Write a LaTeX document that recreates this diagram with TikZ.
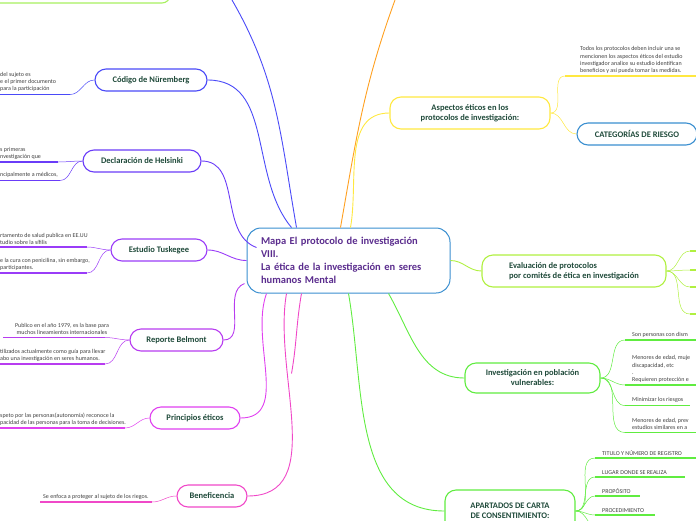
\documentclass[tikz,border=0pt]{standalone}
\usepackage{fontspec}
\setmainfont{Carlito}
\usetikzlibrary{calc}
\definecolor{cblue}{HTML}{3A8FD0}
\definecolor{cpurp}{HTML}{5B2D8E}
\definecolor{ctext}{HTML}{1F4A3A}
\definecolor{bnur}{HTML}{4A4AF8}
\definecolor{bhel}{HTML}{6A3CF8}
\definecolor{btus}{HTML}{9A3CF8}
\definecolor{bbel}{HTML}{B83CF0}
\definecolor{bpri}{HTML}{E040F0}
\definecolor{bben}{HTML}{F048C8}
\definecolor{byel}{HTML}{FFE840}
\definecolor{borg}{HTML}{FFA020}
\definecolor{blim}{HTML}{B0F040}
\definecolor{bgrn}{HTML}{60EC40}
\definecolor{btop}{HTML}{A8F060}
\tikzset{
 branch/.style={draw=#1,line width=1.1pt,rounded corners=11pt,fill=white,font=\fontsize{8.5}{10}\selectfont\bfseries,text=ctext,inner xsep=8pt,align=center},
 leaf/.style={font=\fontsize{6}{7.4}\selectfont,text=black!75,inner sep=0pt,align=#1},
 ul/.style={draw=#1,line width=1.3pt},
 conn/.style={draw=#1,line width=0.9pt},
 thin/.style={draw=#1,line width=0.5pt},
}
\begin{document}
\begin{tikzpicture}[x=1pt,y=-1pt]
\useasboundingbox (0,0) rectangle (696,520);
% top-left green box remnant
\draw[btop,line width=1.1pt,rounded corners=8pt] (-20,-20) rectangle (170,3);
\coordinate (topA) at (232,0);
\coordinate (topB) at (395,0);

% center
\node[draw=cblue,line width=1pt,rounded corners=14pt,fill=white,minimum width=203pt,minimum height=65pt,text width=175pt,inner xsep=14pt,align=left,font=\fontsize{10.5}{13}\selectfont\bfseries,text=cpurp] (c) at (348.5,260.5) {Mapa El protocolo de investigación\\VIII.\\La ética de la investigación en seres\\humanos Mental};

% left branches
\node[branch=bnur,minimum width=112pt,minimum height=22pt] (nur) at (151,80) {Código de Nüremberg};
\node[branch=bhel,minimum width=118pt,minimum height=22pt] (hel) at (142,161) {Declaración de Helsinki};
\node[branch=btus,minimum width=96pt,minimum height=22pt] (tus) at (159,250) {Estudio Tuskegee};
\node[branch=bbel,minimum width=93pt,minimum height=22pt] (bel) at (176.5,340) {Reporte Belmont};
\node[branch=bpri,minimum width=90pt,minimum height=22pt] (pri) at (195,418) {Principios éticos};
\node[branch=bben,minimum width=70pt,minimum height=22pt] (ben) at (212,496) {Beneficencia};

% right branches
\node[branch=byel,minimum width=160pt,minimum height=32pt] (asp) at (470,113) {Aspectos éticos en los\\ protocolos de investigación:};
\node[branch=cblue,minimum width=120pt,minimum height=22pt] (cat) at (637,134) {CATEGORÍAS DE RIESGO};
\node[branch=blim,minimum width=184pt,minimum height=32pt,align=left] (eva) at (574,271) {Evaluación de protocolos\\por comités de ética en investigación};
\node[branch=bgrn,minimum width=135pt,minimum height=30pt] (vul) at (532.5,378) {Investigación en población\\ vulnerables:};
\node[branch=bgrn,minimum width=130pt,minimum height=42pt] (apa) at (510,511) {APARTADOS DE CARTA\\DE CONSENTIMIENTO:};

% center connectors
\draw[conn=bnur] ($(c.north west)+(50,0)$) to[out=100,in=-60] (topA);
\draw[conn=borg] ($(c.north)+(-8,0)$) to[out=80,in=-110] (topB);
\draw[conn=bnur] ($(c.north west)+(45,0)$) to[out=130,in=0] (nur.east);
\draw[conn=bhel] ($(c.north west)+(10,20)$) to[out=160,in=0] (hel.east);
\draw[conn=btus] (c.west) to[out=180,in=0] (tus.east);
\draw[conn=bbel] ($(c.south west)+(-2,-10)$) to[out=200,in=0] (bel.east);
\draw[conn=bpri] ($(c.south west)+(20,0)$) to[out=-110,in=0] (pri.east);
\draw[conn=bben] ($(c.south west)+(40,0)$) to[out=-100,in=0] (ben.east);
\draw[conn=bben] ($(c.south west)+(55,0)$) to[out=-100,in=80] ++(-10,80);
\draw[conn=byel] ($(c.north)+(2,0)$) to[out=80,in=180] (asp.west);
\draw[conn=blim] (c.east) to[out=0,in=180] (eva.west);
\draw[conn=bgrn] ($(c.south)+(40,0)$) to[out=-60,in=180] (vul.west);
\draw[conn=bgrn] ($(c.south)+(0,0)$) to[out=-80,in=180] (apa.west);

% Nuremberg leaves
\node[leaf=left,anchor=south west] (n1) at (0,92) {del sujeto es\\e el primer documento\\para la participación};
\draw[ul=bnur] (0,94.5) coordinate (n1a) -- (70,94.5) coordinate (n1b);
\draw[thin=bnur] (n1b) to[out=0,in=180] (nur.west);
% Helsinki
\node[leaf=left,anchor=south west] (h1) at (0,160) {s primeras\\nvestigación que};
\draw[ul=bhel] (0,162) -- (58,162) coordinate (h1b);
\node[leaf=left,anchor=south west] (h2) at (0,178) {ncipalmente a médicos,};
\draw[ul=bhel] (0,180.5) -- (60,180.5) coordinate (h2b);
\draw[thin=bhel] (h1b) to[out=0,in=180] (hel.west);
\draw[thin=bhel] (h2b) to[out=0,in=180] (hel.west);
% Tuskegee
\node[leaf=left,anchor=south west] (t1) at (0,245) {rtamento de salud publica en EE.UU\\tudio sobre la sífilis};
\draw[ul=btus] (0,247) -- (87,247) coordinate (t1b);
\node[leaf=left,anchor=south west] (t2) at (0,271) {e la cura con penicilina, sin embargo,\\participantes.};
\draw[ul=btus] (0,273) -- (87,273) coordinate (t2b);
\draw[thin=btus] (t1b) to[out=0,in=180] (tus.west);
\draw[thin=btus] (t2b) to[out=0,in=180] (tus.west);
% Belmont
\node[leaf=center,anchor=south] (b1) at (62,335) {Publico en el año 1979, es la base para\\muchos lineamientos internacionales};
\draw[ul=bbel] (3,337.5) -- (105,337.5) coordinate (b1b);
\node[leaf=left,anchor=south west] (b2) at (0,362) {tilizados actualmente como guía para llevar\\abo una investigación en seres humanos.};
\draw[ul=bbel] (0,364) -- (105,364) coordinate (b2b);
\draw[thin=bbel] (b1b) to[out=0,in=180] (bel.west);
\draw[thin=bbel] (b2b) to[out=0,in=180] (bel.west);
% Principios
\node[leaf=left,anchor=south west] (p1) at (0,426) {speto por las personas(autonomía) reconoce la\\pacidad de las personas para la toma de decisiones.};
\draw[ul=bpri] (0,428) -- (125,428) coordinate (p1b);
\draw[thin=bpri] (p1b) to[out=0,in=180] (pri.west);
% Beneficencia
\node[leaf=left,anchor=south west] (be1) at (43,499.5) {Se enfoca a proteger al sujeto de los riegos.};
\draw[ul=bben] (40,502) -- (152,502) coordinate (be1b);
\draw[thin=bben] (be1b) to[out=0,in=180] (ben.west);

% Aspectos leaf
\node[leaf=left,anchor=south west] (a1) at (580,74) {Todos los protocolos deben incluir una se\\mencionen los aspectos éticos del estudio\\investigador analice su estudio identifican\\beneficios y así pueda tomar las medidas.};
\draw[ul=byel] (565,76) coordinate (a1a) -- (700,76);
\draw[thin=byel] (asp.east) to[out=0,in=180] (a1a);
\draw[thin=byel] (asp.east) to[out=0,in=180] (cat.west);

% Evaluation leaves
\foreach \yy/\nm in {251/e1,270/e2,287/e3,314/e4}{
 \coordinate (\nm) at (690,\yy);
 \draw[thin=blim] (eva.east) to[out=0,in=180] (\nm);
 \draw[ul=blim] (\nm) -- (700,\yy);
}

% Vulnerables leaves
\node[leaf=left,anchor=south west] (v1) at (632,338) {Son personas con dism};
\draw[ul=bgrn] (625,340) coordinate (v1a) -- (700,340);
\node[leaf=left,anchor=south west] (v2) at (632,383) {Menores de edad, muje\\discapacidad, etc\\.\\Requieren protección e};
\draw[ul=bgrn] (625,385) coordinate (v2a) -- (700,385);
\node[leaf=left,anchor=south west] (v3) at (632,403) {Minimizar los riesgos};
\draw[ul=bgrn] (625,405.5) coordinate (v3a) -- (690,405.5);
\node[leaf=left,anchor=south west] (v4) at (632,430) {Menores de edad, prev\\estudios similares en a};
\draw[ul=bgrn] (625,432.5) coordinate (v4a) -- (700,432.5);
\foreach \t in {v1a,v2a,v3a,v4a} \draw[thin=bgrn] (vul.east) to[out=0,in=180] (\t);

% Apartados leaves
\node[leaf=left,anchor=south west,font=\fontsize{6}{7}\selectfont] (p1x) at (602,455.5) {TITULO Y NÚMERO DE REGISTRO};
\draw[ul=bgrn] (595,458) coordinate (ap1) -- (700,458);
\node[leaf=left,anchor=south west,font=\fontsize{6}{7}\selectfont] (p2x) at (602,475) {LUGAR DONDE SE REALIZA};
\draw[ul=bgrn] (595,477) coordinate (ap2) -- (685,477);
\node[leaf=left,anchor=south west,font=\fontsize{6}{7}\selectfont] (p3x) at (602,493.5) {PROPÓSITO};
\draw[ul=bgrn] (595,496) coordinate (ap3) -- (640,496);
\node[leaf=left,anchor=south west,font=\fontsize{6}{7}\selectfont] (p4x) at (602,512.5) {PROCEDIMIENTO};
\draw[ul=bgrn] (595,515) coordinate (ap4) -- (655,515);
\foreach \t in {ap1,ap2,ap3,ap4} \draw[thin=bgrn] (apa.east) to[out=0,in=180] (\t);
\draw[thin=bgrn] (apa.east) to[out=0,in=180] (600,530);
\end{tikzpicture}
\end{document}
